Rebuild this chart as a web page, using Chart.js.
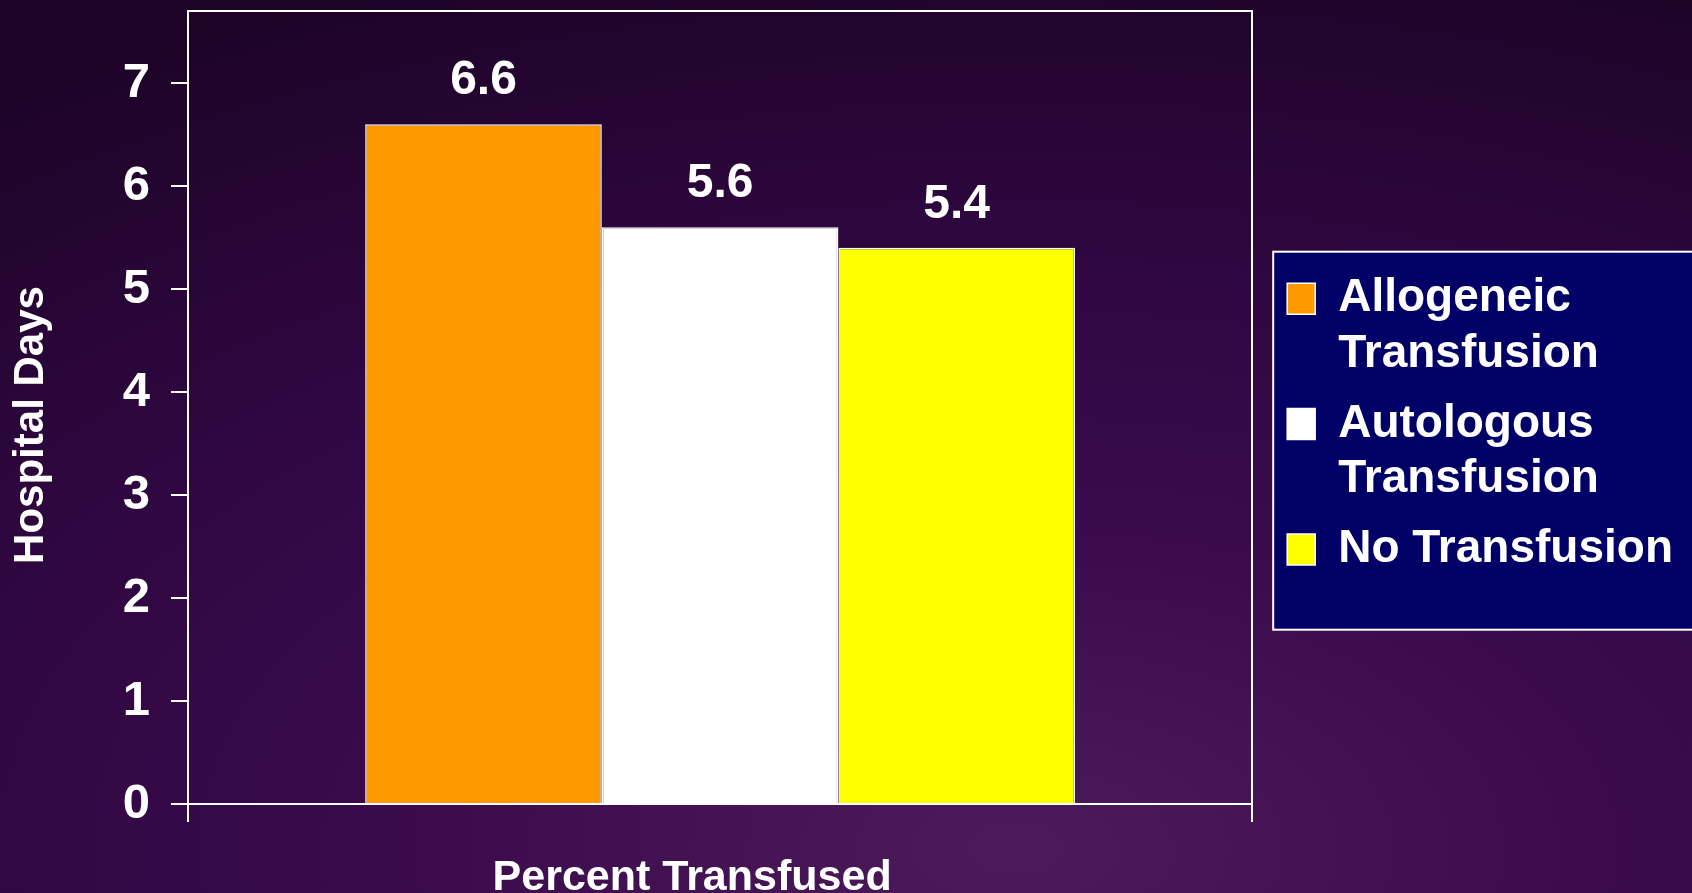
<!DOCTYPE html>
<html>
<head>
<meta charset="utf-8">
<script src="https://cdn.jsdelivr.net/npm/chart.js@4.4.1/dist/chart.umd.min.js"></script>
<style>
  html, body { margin: 0; padding: 0; }
  body {
    width: 1692px; height: 893px; overflow: hidden;
    background: radial-gradient(ellipse 105% 105% at 60% 95%, #4c1b5b 0%, #3b0b4d 33%, #2f0741 62%, #1d0326 100%);
  }
  #wrap { position: relative; width: 1692px; height: 893px; }
</style>
</head>
<body>
<div id="wrap"><canvas id="myChart" width="1692" height="893"></canvas></div>
<script>
/* chart data */
const categories = ['Percent Transfused'];
const seriesNames = [['Allogeneic', 'Transfusion'], ['Autologous', 'Transfusion'], ['No Transfusion']];
const seriesValues = [[6.6], [5.6], [5.4]];
const seriesColors = ['#ff9900', '#ffffff', '#ffff00'];
const yTicks = [0, 1, 2, 3, 4, 5, 6, 7];

const FONT = '"Liberation Sans", Arial, sans-serif';

// navy box behind the legend
const legendBox = {
  id: 'legendBox',
  beforeDraw(chart) {
    const lg = chart.legend;
    if (!lg || !lg.legendHitBoxes || !lg.legendHitBoxes.length) return;
    const hb = lg.legendHitBoxes;
    const last = hb[hb.length - 1];
    const top = hb[0].top - 24;
    const bottom = last.top + last.height + 48;
    const left = lg.left + 1;
    const ctx = chart.ctx;
    ctx.save();
    ctx.fillStyle = '#000066';
    ctx.fillRect(left, top, chart.width + 10 - left, bottom - top);
    ctx.strokeStyle = '#ffffff';
    ctx.lineWidth = 2;
    ctx.strokeRect(left, top, chart.width + 10 - left, bottom - top);
    ctx.restore();
  }
};

// values above the bars
const valueLabels = {
  id: 'valueLabels',
  afterDatasetsDraw(chart) {
    const ctx = chart.ctx;
    ctx.save();
    ctx.fillStyle = '#ffffff';
    ctx.font = 'bold 48px ' + FONT;
    ctx.textAlign = 'center';
    ctx.textBaseline = 'alphabetic';
    chart.data.datasets.forEach((ds, i) => {
      chart.getDatasetMeta(i).data.forEach((bar, j) => {
        ctx.fillText(ds.data[j].toFixed(1), bar.x, bar.y - 30);
      });
    });
    ctx.restore();
  }
};

const ctx = document.getElementById('myChart');
const myChart = new Chart(ctx, {
  type: 'bar',
  plugins: [legendBox, valueLabels],
  data: {
    labels: categories,
    datasets: seriesNames.map((name, i) => ({
      label: name,
      data: seriesValues[i],
      backgroundColor: seriesColors[i],
      borderColor: '#ffffff',
      borderWidth: 1.5,
      borderSkipped: 'bottom',
      categoryPercentage: 0.667,
      barPercentage: 1.0
    }))
  },
  options: {
    responsive: false,
    animation: false,
    events: [],
    layout: { padding: { top: 0, right: 9, bottom: 0, left: 0 } },
    plugins: {
      tooltip: { enabled: false },
      legend: {
        position: 'right',
        fullSize: false,
        maxWidth: 430,
        title: { display: true, text: '', padding: { top: 28, bottom: 0 }, font: { size: 12, lineHeight: 1.2 } },
        labels: {
          color: '#ffffff',
          font: { family: FONT, size: 46, weight: 'bold', lineHeight: 1.2 },
          boxWidth: 28,
          boxHeight: 31,
          padding: 15
        }
      }
    },
    scales: {
      x: {
        type: 'category',
        position: 'bottom',
        offset: true,
        afterFit: s => { s.height = 89; s.paddingLeft = 0; s.paddingRight = 0; },
        grid: { offset: true, drawOnChartArea: false, color: '#ffffff', lineWidth: 2, tickLength: 18 },
        border: { color: '#ffffff', width: 2 },
        ticks: {
          color: '#ffffff',
          font: { family: FONT, size: 43, weight: 'bold', lineHeight: 1 },
          padding: 35,
          labelOffset: -28,
          maxRotation: 0
        }
      },
      x2: {
        type: 'category',
        position: 'top',
        afterFit: s => { s.height = 11; },
        grid: { display: false },
        border: { color: '#ffffff', width: 2 },
        ticks: { display: false }
      },
      y: {
        position: 'left',
        min: 0,
        max: 7.7,
        afterFit: s => { s.width = 188; s.paddingTop = 0; s.paddingBottom = 0; },
        afterBuildTicks: s => { s.ticks = yTicks.map(v => ({ value: v })); },
        grid: { drawOnChartArea: false, color: '#ffffff', lineWidth: 2, tickLength: 17 },
        border: { color: '#ffffff', width: 2 },
        ticks: {
          color: '#ffffff',
          font: { family: FONT, size: 49, weight: 'bold' },
          padding: 21
        },
        title: {
          display: true,
          text: 'Hospital Days   ',
          color: '#ffffff',
          font: { family: FONT, size: 42, weight: 'bold' },
          padding: { top: 6, bottom: 0 }
        }
      },
      y2: {
        position: 'right',
        min: 0,
        max: 7.7,
        afterFit: s => { s.width = 20; s.paddingTop = 0; s.paddingBottom = 0; },
        grid: { display: false },
        border: { color: '#ffffff', width: 2 },
        ticks: { display: false }
      }
    }
  }
});
</script>
</body>
</html>
